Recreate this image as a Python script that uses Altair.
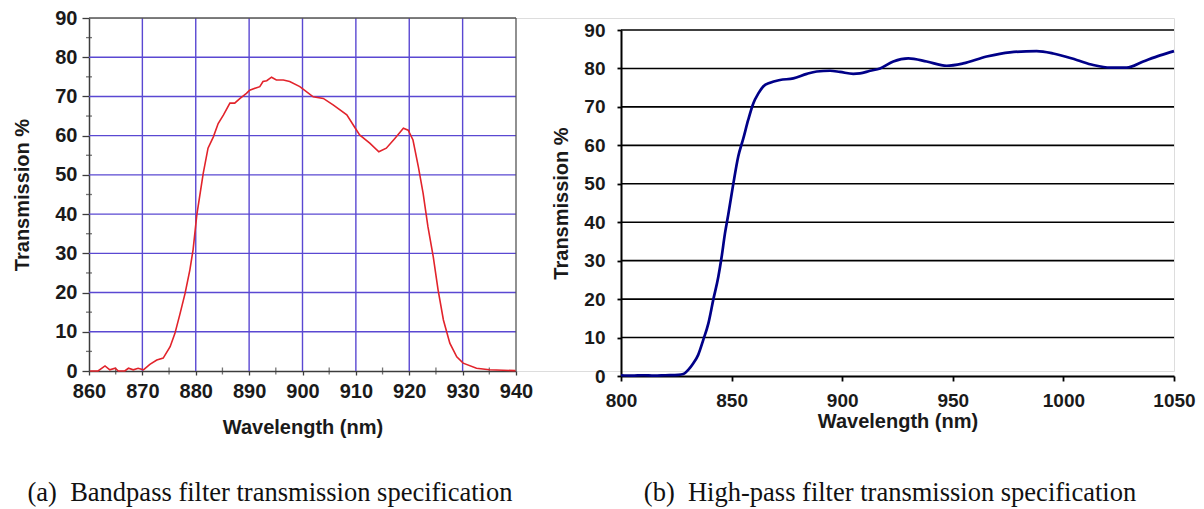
import altair as alt
import pandas as pd

# ---------------- data ----------------
# (a) bandpass filter
bp_nm = [860.2, 861.7, 863.0, 863.9, 864.9, 865.5, 866.7, 867.4, 868.3, 869.2,
         870.2, 871.4, 872.7, 873.9, 875.2, 876.1, 877.0, 878.0, 878.9, 879.5,
         880.2, 881.4, 882.3, 883.3, 884.2, 885.2, 886.4, 887.3, 888.3, 889.5,
         890.1, 892.0, 892.6, 893.3, 894.2, 895.1, 896.4, 897.6, 899.5, 902.0,
         903.9, 905.8, 908.3, 909.9, 910.7, 912.6, 914.3, 915.7, 917.3, 918.9,
         919.8, 920.7, 921.7, 922.6, 923.5, 924.5, 925.4, 926.4, 927.6, 928.9,
         930.1, 932.6, 935.0, 939.9]
bp_T = [0.0, 0.0, 1.3, 0.3, 0.7, 0.0, 0.0, 0.7, 0.3, 0.7,
        0.3, 1.7, 2.8, 3.3, 6.2, 9.6, 14.3, 19.8, 25.8, 30.9,
        39.8, 50.4, 56.8, 59.7, 63.1, 65.3, 68.3, 68.3, 69.5, 70.8,
        71.6, 72.5, 73.8, 74.0, 74.9, 74.2, 74.2, 73.8, 72.5, 69.9,
        69.5, 67.8, 65.3, 61.9, 60.2, 58.1, 55.9, 56.8, 59.3, 61.9,
        61.4, 58.9, 52.1, 45.3, 36.8, 29.1, 20.7, 13.0, 7.1, 3.6,
        2.0, 0.7, 0.3, 0.1]

# (b) high-pass filter
hp_nm = [800, 805, 810, 815, 820, 825.9, 828.2, 830.4, 832.7, 834.9,
         837.2, 839.5, 841.7, 844.0, 845.5, 847.0, 848.5, 850.8, 853.0, 855.3,
         857.5, 859.8, 862.1, 864.3, 867.4, 871.9, 877.9, 884.0, 888.5, 894.5,
         899.0, 905.0, 908.0, 912.6, 917.1, 923.1, 929.9, 938.2, 947.2, 954.7,
         965.3, 975.8, 987.9, 995.4, 1006.0, 1013.5, 1021.1, 1028.6, 1036.1, 1043.7,
         1050]
hp_T = [0.2, 0.1, 0.2, 0.1, 0.2, 0.3, 0.5, 1.6, 3.3, 5.5,
        9.4, 13.7, 19.8, 25.8, 31.0, 37.1, 42.0, 50.1, 57.1, 61.8,
        66.6, 70.9, 73.5, 75.3, 76.3, 77.0, 77.4, 78.6, 79.2, 79.4,
        79.1, 78.6, 78.7, 79.4, 80.0, 81.8, 82.6, 81.8, 80.7, 81.3,
        83.1, 84.2, 84.5, 83.9, 82.2, 80.9, 80.2, 80.2, 81.8, 83.4,
        84.5]

bp_x_ticks = [860, 870, 880, 890, 900, 910, 920, 930, 940]
bp_y_ticks = [0, 10, 20, 30, 40, 50, 60, 70, 80, 90]
bp_grid_x = [870, 880, 890, 900, 910, 920, 930]
bp_grid_y = [10, 20, 30, 40, 50, 60, 70, 80]
bp_minor_x = [865, 875, 885, 895, 905, 915, 925, 935]
bp_minor_y = [5, 15, 25, 35, 45, 55, 65, 75, 85]
hp_x_ticks = [800, 850, 900, 950, 1000, 1050]
hp_y_ticks = [0, 10, 20, 30, 40, 50, 60, 70, 80, 90]
hp_grid_y = [10, 20, 30, 40, 50, 60, 70, 80, 90]
captions = ["(a) Bandpass filter transmission specification",
            "(b) High-pass filter transmission specification"]
x_title = "Wavelength (nm)"
y_title = "Transmission %"

# ---------------- styling ----------------
SANS = "Liberation Sans"
SERIF = "Liberation Serif"
PURPLE = "#5a48d2"
RED = "#e2232b"
NAVY = "#000088"
DARK = "#3c3c3c"

# left panel occupies view x 0..427, y 0..353 ; right panel x 532..1085, y 12..358
lx = alt.Scale(domain=[860, 940], range=[0, 427], nice=False, zero=False)
ly = alt.Scale(domain=[0, 90], range=[353, 0], nice=False)
rx = alt.Scale(domain=[800, 1050], range=[532, 1085], nice=False, zero=False)
ry = alt.Scale(domain=[0, 90], range=[358, 12], nice=False)

common_axis = dict(labelFont=SANS, labelFontWeight="bold", labelColor="#1a1a1a",
                   titleFont=SANS, titleFontWeight="bold", titleColor="#1a1a1a",
                   grid=False, labelFlush=False, labelOverlap=False, format="d")

left_x_axis = alt.Axis(orient="bottom", values=bp_x_ticks, title=x_title,
                       labelFontSize=20, titleFontSize=20, tickSize=4, labelPadding=6,
                       titlePadding=16, domainColor=DARK, domainWidth=1.5,
                       tickColor=DARK, tickWidth=1.3, **common_axis)
left_y_axis = alt.Axis(orient="left", values=bp_y_ticks, title=y_title,
                       labelFontSize=20, titleFontSize=20, tickSize=7, labelPadding=5,
                       titlePadding=22, domainColor=DARK, domainWidth=1.5,
                       tickColor=DARK, tickWidth=1.3, **common_axis)
right_x_axis = alt.Axis(orient="bottom", values=hp_x_ticks, title=x_title, offset=5,
                        labelFontSize=19, titleFontSize=20, tickSize=5, labelPadding=10,
                        titlePadding=1, domainColor="#000", domainWidth=2,
                        tickColor="#000", tickWidth=1.8, **common_axis)
right_y_axis = alt.Axis(orient="left", values=hp_y_ticks, title=y_title, offset=-532,
                        labelFontSize=19, titleFontSize=20, tickSize=4, labelPadding=12,
                        titlePadding=12, domainColor="#000", domainWidth=2,
                        tickColor="#000", tickWidth=1.8, **common_axis)


def LX(f):
    return alt.X(f, scale=lx, axis=left_x_axis)


def LY(f):
    return alt.Y(f, scale=ly, axis=left_y_axis)


def RX(f):
    return alt.X(f, scale=rx, axis=right_x_axis)


def RY(f):
    return alt.Y(f, scale=ry, axis=right_y_axis)


def caption_text(s):
    # LaTeX-style wider gap after the sub-figure label
    label, rest = s.split(" ", 1)
    return label + "\u00a0 " + rest


# ---------------- left panel ----------------
bp_df = pd.DataFrame({"nm": bp_nm, "T": bp_T})
vgrid = alt.Chart(pd.DataFrame({"x": bp_grid_x, "y0": 0, "y1": 90})).mark_rule(
    color=PURPLE, strokeWidth=1.4).encode(x=LX("x:Q"), y=LY("y0:Q"), y2="y1:Q")
hgrid = alt.Chart(pd.DataFrame({"y": bp_grid_y, "x0": 860, "x1": 940})).mark_rule(
    color=PURPLE, strokeWidth=1.4).encode(y=LY("y:Q"), x=LX("x0:Q"), x2="x1:Q")
frame_top = alt.Chart(pd.DataFrame({"y": [90], "x0": 860, "x1": 940})).mark_rule(
    color="#555555", strokeWidth=1.3).encode(y=LY("y:Q"), x=LX("x0:Q"), x2="x1:Q")
frame_right = alt.Chart(pd.DataFrame({"x": [940], "y0": 0, "y1": 90})).mark_rule(
    color="#555555", strokeWidth=1.3).encode(x=LX("x:Q"), y=LY("y0:Q"), y2="y1:Q")
minor_y = alt.Chart(pd.DataFrame({"y": bp_minor_y, "x": 860})).mark_tick(
    orient="horizontal", size=6, thickness=1.3, color=DARK).encode(x=LX("x:Q"), y=LY("y:Q"))
minor_x = alt.Chart(pd.DataFrame({"x": bp_minor_x, "y": 0})).mark_tick(
    orient="vertical", size=7, thickness=1.3, color=DARK).encode(x=LX("x:Q"), y=LY("y:Q"))
bp_line = alt.Chart(bp_df).mark_line(color=RED, strokeWidth=1.6).encode(
    x=LX("nm:Q"), y=LY("T:Q"))
cap_a = alt.Chart(pd.DataFrame({"c": [caption_text(captions[0])]})).mark_text(
    font=SERIF, fontSize=26.5, color="#111", align="center", baseline="alphabetic").encode(
    text="c:N", x=alt.value(181), y=alt.value(483))

left = alt.layer(vgrid, hgrid, frame_top, frame_right, minor_y, minor_x, bp_line, cap_a)

# ---------------- right panel ----------------
hp_df = pd.DataFrame({"nm": hp_nm, "T": hp_T})
r_hgrid = alt.Chart(pd.DataFrame({"y": hp_grid_y, "x0": 800, "x1": 1050})).mark_rule(
    color="#000000", strokeWidth=1.6).encode(y=RY("y:Q"), x=RX("x0:Q"), x2="x1:Q")
hp_line = alt.Chart(hp_df).mark_line(color=NAVY, strokeWidth=2.7, interpolate="monotone").encode(
    x=RX("nm:Q"), y=RY("T:Q"))
cap_b = alt.Chart(pd.DataFrame({"c": [caption_text(captions[1])]})).mark_text(
    font=SERIF, fontSize=26.5, color="#111", align="center", baseline="alphabetic").encode(
    text="c:N", x=alt.value(801), y=alt.value(483))

right = alt.layer(r_hgrid, hp_line, cap_b)

chart = alt.layer(left, right).resolve_scale(x="independent", y="independent").properties(
    width=1085, height=353,
    autosize=alt.AutoSizeParams(type="none"),
    padding={"left": 81, "top": 10, "right": 22, "bottom": 138},
).configure_view(strokeWidth=0).configure(background="white")

chart.save("out.html", embed_options={"renderer": "svg", "actions": False})
